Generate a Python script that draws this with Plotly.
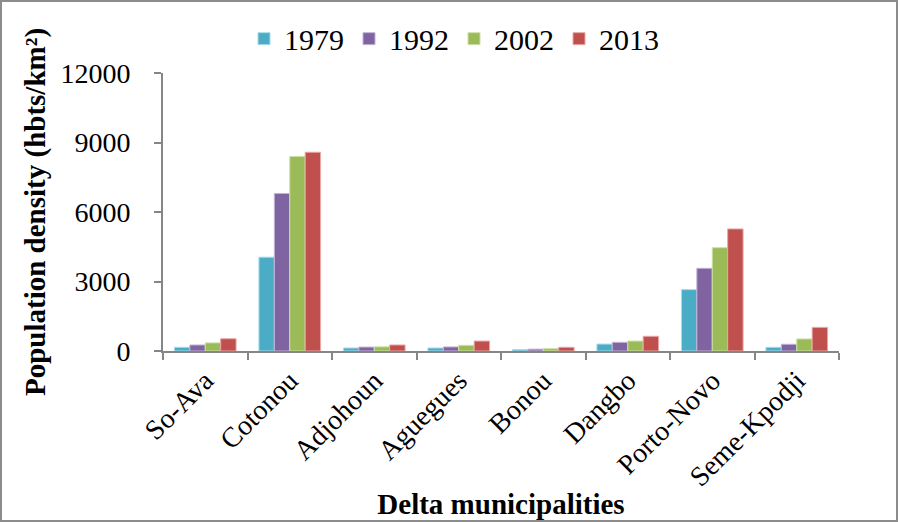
import plotly.graph_objects as go

categories = ["So-Ava", "Cotonou", "Adjohoun", "Aguegues", "Bonou", "Dangbo", "Porto-Novo", "Seme-Kpodji"]
years = ["1979", "1992", "2002", "2013"]
v1979 = [160, 4050, 130, 130, 60, 300, 2650, 160]
v1992 = [260, 6800, 170, 175, 80, 375, 3570, 290]
v2002 = [350, 8400, 180, 245, 100, 430, 4460, 520]
v2013 = [530, 8580, 260, 430, 160, 635, 5270, 1020]
series = [v1979, v1992, v2002, v2013]
colors = ["#4BACC6", "#8064A2", "#9BBB59", "#C0504D"]
edge = ["#A9DCEA", "#C2B3D6", "#CDE0A9", "#E8A9A7"]
y_ticks = [0, 3000, 6000, 9000, 12000]
y_ticktext = ["0", "3000", "6000", "9000", "12000"]

FONT = "Liberation Serif"
W, H = 898, 522
ML, MR, MT, MB = 163, 59, 73, 171

fig = go.Figure()
for name, vals, c, e in zip(years, series, colors, edge):
    fig.add_trace(go.Bar(x=categories, y=vals, name=name,
                         marker=dict(color=c, line=dict(color=e, width=1))))

pw = W - ML - MR
ph = H - MT - MB
fig.add_shape(type="rect", xref="paper", yref="paper",
              x0=(-ML + 1) / pw, x1=(pw + MR - 1) / pw,
              y0=(-MB + 1) / ph, y1=(ph + MT - 1) / ph,
              line=dict(color="#8C8C8C", width=2), layer="below")

fig.update_layout(
    width=W, height=H,
    margin=dict(l=ML, r=MR, t=MT, b=MB, autoexpand=False),
    paper_bgcolor="white", plot_bgcolor="white",
    font=dict(family=FONT, color="black"),
    barmode="group", bargap=0.27, bargroupgap=0,
    legend=dict(orientation="h", x=(454 - ML) / pw, xanchor="center", y=1.03, yanchor="bottom",
                font=dict(size=30, family=FONT), itemwidth=30, traceorder="normal"),
    xaxis=dict(showline=True, linecolor="#868686", linewidth=2, ticks="outside", automargin=False,
               tickson="boundaries", ticklen=7, tickcolor="#868686", tickwidth=2,
               tickangle=-45, tickfont=dict(size=28, family=FONT), showgrid=False,
               title=dict(text="<b>Delta municipalities</b>", font=dict(size=29, family=FONT), standoff=2)),
    yaxis=dict(range=[0, 12000], tickvals=y_ticks, ticktext=y_ticktext, showline=True, linecolor="#868686",
               linewidth=2, ticks="outside", ticklen=7, tickcolor="#868686", tickwidth=2, automargin=False,
               ticklabelstandoff=18,
               tickfont=dict(size=28, family=FONT), showgrid=False, zeroline=False,
               title=dict(text="<b>Population density (hbts/km²)</b>", font=dict(size=29, family=FONT), standoff=6)),
)

fig.write_html("out.html")
